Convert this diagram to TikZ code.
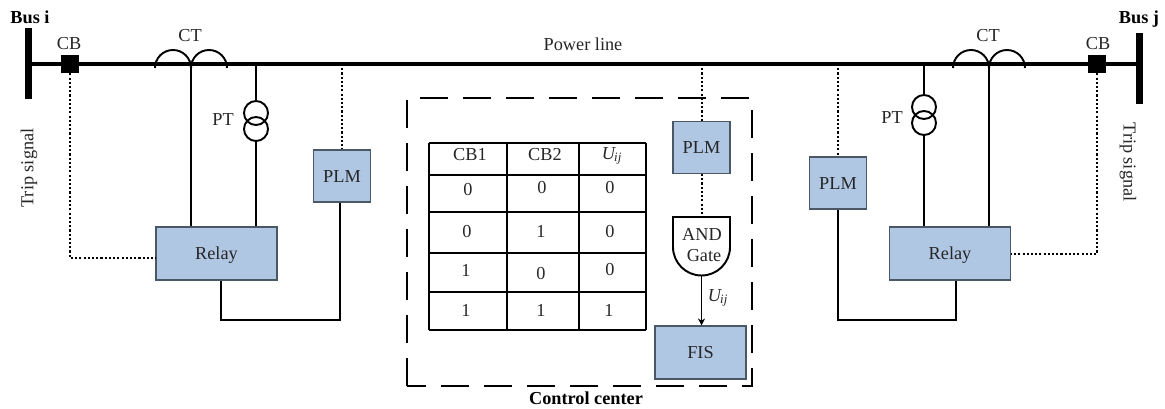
\documentclass[tikz,border=0pt]{standalone}
\usepackage{fontspec}
\setmainfont{Liberation Serif}
\usepackage{tkz-euclide}
\usetikzlibrary{calc,arrows.meta}
\definecolor{boxblue}{HTML}{B0C7E4}
\definecolor{boxedge}{HTML}{4A5866}
\definecolor{labelgray}{HTML}{262626}
\newcommand{\Uij}{\textit{U}\kern-.5pt\textsubscript{\kern-.5pt\textit{ij}}}
\tikzset{
    lbl/.style={font=\fontsize{10.4}{12}\selectfont,text=labelgray,inner sep=0pt},
    boldlbl/.style={font=\fontsize{10.4}{12}\selectfont\bfseries,text=black,inner sep=0pt},
    bluebox/.style={lbl,draw=boxedge,fill=boxblue,line width=.6pt,text height=6.9pt,text depth=0pt},
    plmbox/.style={bluebox,minimum width=1.14cm,minimum height=1.04cm},
    relaybox/.style={bluebox,minimum width=2.42cm,minimum height=1.06cm},
    cbbox/.style={fill=black,inner sep=0pt,minimum size=.36cm},
    ptcoil/.style={circle,draw=black,line width=1.1pt,inner sep=0pt,minimum size=.48cm},
    busline/.style={line width=4pt,line cap=butt},
    mainline/.style={line width=2pt,line cap=butt},
    wire/.style={line width=1.1pt},
    dotwire/.style={line width=1.1pt,dash pattern=on 1.2pt off 1.2pt},
    ctarc/.style={line width=1.1pt}
}
\begin{document}
\begin{tikzpicture}
        \useasboundingbox (0,0) rectangle (23.30,8.16);
        \tkzDefPoints{0.57/7.60/BiT,0.57/6.18/BiB,22.79/7.50/BjT,22.79/6.08/BjB,0.57/6.88/LineL,22.79/6.88/LineR}
        \tkzDefPoints{3.82/6.88/CtL,5.12/6.88/PtL,6.84/6.88/SenseL,14.04/6.88/SenseC,16.76/6.88/SenseR,18.48/6.88/PtR,19.78/6.88/CtR}
        \tkzDefPoints{1.40/3.00/TripL,21.94/3.08/TripR,4.42/1.76/LoopLa,6.80/1.76/LoopLb,16.76/1.76/LoopRa,19.12/1.76/LoopRb}
        \tkzDefPoints{14.03/3.82/GateT,14.03/2.64/GateB}
        \tkzDrawSegments[busline](BiT,BiB BjT,BjB)
        \tkzDrawSegments[mainline](LineL,LineR)
        \node[cbbox] (cbL) at (1.39,6.88) {};
        \node[cbbox] (cbR) at (21.94,6.88) {};
        \node[relaybox] (relayL) at (4.33,3.09) {Relay};
        \node[relaybox] (relayR) at (19.00,3.09) {Relay};
        \node[plmbox] (plmL) at (6.84,4.64) {PLM};
        \node[plmbox] (plmC) at (14.03,5.21) {PLM};
        \node[plmbox] (plmR) at (16.76,4.50) {PLM};
        \node[bluebox,minimum width=1.82cm,minimum height=1.06cm] (fis) at (14.01,1.11) {FIS};
        \node[ptcoil] (ptLa) at (5.12,5.90) {};
        \node[ptcoil] (ptLb) at (5.12,5.58) {};
        \node[ptcoil] (ptRa) at (18.48,6.02) {};
        \node[ptcoil] (ptRb) at (18.48,5.70) {};
        \draw[ctarc] (3.10,6.80) arc[start angle=180,end angle=0,radius=.36] arc[start angle=180,end angle=0,radius=.36];
        \draw[ctarc] (19.06,6.80) arc[start angle=180,end angle=0,radius=.36] arc[start angle=180,end angle=0,radius=.36];
        \draw[wire] (CtL) -- (CtL |- relayL.north);
        \draw[wire] (CtR) -- (CtR |- relayR.north);
        \draw[wire] (PtL) -- (ptLa.north);
        \draw[wire] (ptLb.south) -- (ptLb.south |- relayL.north);
        \draw[wire] (PtR) -- (ptRa.north);
        \draw[wire] (ptRb.south) -- (ptRb.south |- relayR.north);
        \draw[wire] (LoopLb |- plmL.south) -- (LoopLb) -- (LoopLa) -- (LoopLa |- relayL.south);
        \draw[wire] (plmR.south) -- (LoopRa) -- (LoopRb) -- (LoopRb |- relayR.south);
        \draw[dotwire] (SenseL) -- (plmL.north);
        \draw[dotwire] (SenseC) -- (SenseC |- plmC.north);
        \draw[dotwire] (SenseR) -- (plmR.north);
        \draw[dotwire] (cbL.south -| TripL) -- (TripL) -- (TripL -| relayL.west);
        \draw[dotwire] (cbR.south -| TripR) -- (TripR) -- (TripR -| relayR.east);
        \draw[black,line width=1.1pt,line cap=butt,dash pattern=on .56cm off .3cm] (8.14,.44) rectangle (15.04,6.20);
        \foreach \ya in {5.30,4.66,3.92,3.10,2.32,1.56}
            \draw[wire] (8.58,\ya) -- (12.92,\ya);
        \foreach \xa in {8.58,10.14,11.58,12.92}
            \draw[wire] (\xa,5.30) -- (\xa,1.56);
        \foreach \xa/\ya/\val/\cellname in {9.40/5.06/CB1/hA,10.90/5.06/CB2/hB,12.24/5.04/\Uij/hC,
            9.36/4.36/0/aA,10.84/4.40/0/aB,12.20/4.40/0/aC,
            9.34/3.52/0/bA,10.82/3.54/1/bB,12.20/3.52/0/bC,
            9.32/2.76/1/cA,10.82/2.68/0/cB,12.20/2.76/0/cC,
            9.32/1.96/1/dA,10.82/1.96/1/dB,12.18/1.96/1/dC}
            \node[lbl] (\cellname) at (\xa,\ya) {\val};
        \draw[wire,fill=white] (GateT) -- (14.60,3.82) -- (14.60,3.22) arc[start angle=0,end angle=-180,radius=.57] -- (13.46,3.82) -- cycle;
        \node[lbl] (gateA) at (14.04,3.48) {AND};
        \node[lbl] (gateB) at (14.08,3.04) {Gate};
        \draw[dotwire] (SenseC |- plmC.south) -- (SenseC |- GateT);
        \draw[wire,-{Stealth[length=4pt,width=4pt]}] (GateB) -- (GateB |- fis.north);
        \node[lbl] (uLbl) at (14.36,2.20) {\Uij};
        \node[boldlbl] (busI) at (0.60,7.82) {Bus i};
        \node[boldlbl] (busJ) at (22.78,7.78) {Bus j};
        \node[lbl] (cbLblL) at (1.38,7.28) {CB};
        \node[lbl] (cbLblR) at (21.96,7.28) {CB};
        \node[lbl] (ctLblL) at (3.80,7.44) {CT};
        \node[lbl] (ctLblR) at (19.76,7.44) {CT};
        \node[lbl] (ptLblL) at (4.46,5.76) {PT};
        \node[lbl] (ptLblR) at (17.84,5.80) {PT};
        \node[lbl] (lineLbl) at (11.66,7.28) {Power line};
        \node[lbl,rotate=90] (tripL) at (0.58,4.80) {Trip signal};
        \node[lbl,rotate=-90] (tripR) at (22.56,4.92) {Trip signal};
        \node[boldlbl] (ccLbl) at (11.72,0.20) {Control center};
    \end{tikzpicture}
\end{document}
